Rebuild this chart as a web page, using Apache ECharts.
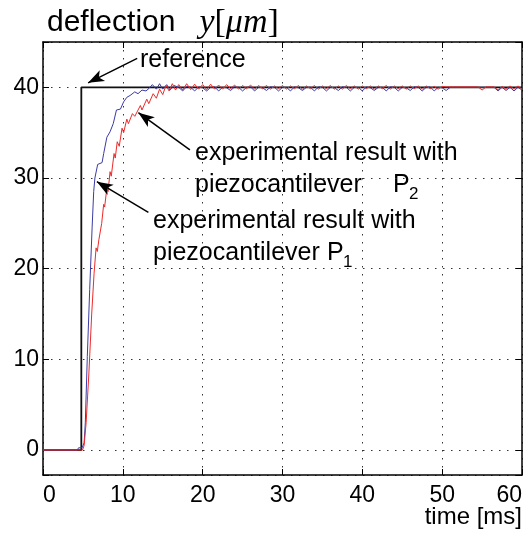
<!DOCTYPE html>
<html>
<head>
<meta charset="utf-8">
<script src="https://cdn.jsdelivr.net/npm/echarts@6/dist/echarts.min.js"></script>
<style>
  html, body { margin: 0; padding: 0; background: #fff; }
  #chart { width: 532px; height: 538px; }
</style>
</head>
<body>
<div id="chart"></div>
<script>
// reference step
const refTime = [0, 4.8, 4.8, 60];
const refValues = [0, 0, 40, 40];

// piezocantilever P2 (blue), rise part
const p2RiseTime = [0, 4.3, 4.45, 4.9, 5.05, 5.15, 5.3, 5.55, 5.85, 6.15,
  6.35, 6.5, 6.85, 7.4, 7.6, 8.0, 8.4, 8.8, 9.2, 9.7,
  10.1, 10.5, 10.9, 11.5, 11.9, 12.4, 12.9, 13.3, 13.7, 14.2,
  14.6, 15.0, 15.5, 15.9, 16.4];
const p2RiseValues = [0, 0, 0.25, 0.25, 0.1, 0.8, 3, 10.3, 17.7, 24.5,
  28.5, 30.0, 31.5, 31.7, 32.7, 34.5, 35.1, 36.0, 37.5, 37.6,
  38.4, 38.9, 39.1, 39.5, 39.3, 39.7, 39.6, 39.9, 40.3, 39.8,
  40.4, 39.8, 40.3, 39.7, 40.2];

// piezocantilever P1 (red), rise part
const p1RiseTime = [0, 4.95, 5.15, 5.4, 5.75, 6.1, 6.4, 6.65, 6.8, 7.0,
  7.35, 7.6, 7.72, 8.0, 8.15, 8.4, 8.55, 8.9, 9.05, 9.3,
  9.55, 9.9, 10.1, 10.5, 10.7, 11.2, 11.5, 12.2, 12.4, 13.0,
  13.25, 13.8, 14.2, 14.6, 15.0, 15.4, 15.8, 16.2, 16.6];
const p1RiseValues = [0, 0, 0.5, 3, 8.5, 15, 19.5, 22.3, 21.9, 23.2,
  25, 27.1, 26.8, 28.9, 28.5, 30.7, 30.2, 32.7, 32.2, 34.0,
  33.5, 35.5, 35.0, 36.5, 36.0, 37.1, 36.8, 38.0, 37.5, 38.7,
  38.2, 39.3, 38.8, 39.8, 39.2, 40.2, 39.6, 40.4, 39.7];

// steady state, both cantilevers
const steadyTime = [17.0, 17.5, 18.0, 18.5, 19.0, 19.5, 20.0, 20.5, 21.0, 21.5,
  22.0, 22.5, 23.0, 23.5, 24.0, 24.5, 25.0, 25.5, 26.0, 26.5,
  27.0, 27.5, 28.0, 28.5, 29.0, 29.5, 30.0, 30.5, 31.0, 31.5,
  32.0, 32.5, 33.0, 33.5, 34.0, 34.5, 35.0, 35.5, 36.0, 36.5,
  37.0, 37.5, 38.0, 38.5, 39.0, 39.5, 40.0, 40.5, 41.0, 41.5,
  42.0, 42.5, 43.0, 43.5, 44.0, 44.5, 45.0, 45.5, 46.0, 46.5,
  47.0, 47.5, 48.0, 48.5, 49.0, 49.5, 50.0, 50.5, 51.0, 51.5,
  52.0, 52.5, 53.0, 53.5, 54.0, 54.5, 55.0, 55.5, 56.0, 56.5,
  57.0, 57.5, 58.0, 58.5, 59.0, 59.5, 60.0];
const p2Steady = [40.0, 39.6, 40.1, 40.0, 39.6, 40.05, 39.95, 39.6, 40.0, 40.05,
  39.6, 40.0, 39.95, 39.65, 40.05, 40.0, 39.6, 40.0, 40.05, 39.6,
  40.0, 39.95, 39.65, 40.05, 40.0, 39.6, 40.0, 40.0, 39.6, 40.05,
  39.95, 39.65, 40.0, 40.0, 39.6, 40.05, 40.0, 39.6, 40.0, 39.95,
  39.65, 40.05, 40.0, 39.6, 40.0, 40.0, 39.6, 40.05, 39.95, 39.65,
  40.0, 40.0, 39.6, 40.05, 40.0, 39.6, 40.0, 39.95, 39.65, 40.05,
  40.0, 39.6, 40.0, 40.05, 39.6, 40.0, 39.95, 39.65, 40.0, 40.0,
  40.0, 40.0, 40.0, 40.0, 40.0, 40.0, 40.0, 40.0, 40.0, 40.0,
  39.6, 40.0, 39.65, 40.0, 39.6, 40.0, 39.7];
const p1Steady = [40.3, 39.7, 40.4, 39.75, 40.35, 39.8, 40.3, 39.75, 40.35, 39.8,
  40.25, 39.8, 40.3, 39.85, 40.25, 39.8, 40.2, 39.85, 40.25, 39.8,
  40.2, 39.85, 40.2, 39.8, 40.15, 39.85, 40.2, 39.8, 40.15, 39.85,
  40.2, 39.8, 40.15, 39.85, 40.2, 39.8, 40.15, 39.85, 40.2, 39.8,
  40.15, 39.8, 40.2, 39.85, 40.15, 39.8, 40.15, 39.85, 40.15, 39.8,
  40.15, 39.85, 40.2, 39.8, 40.15, 39.85, 40.15, 39.8, 40.15, 39.85,
  40.15, 39.8, 40.15, 39.85, 40.1, 39.8, 40.1, 40.05, 40.05, 40.05,
  40.05, 40.05, 40.05, 40.05, 40.05, 40.05, 39.7, 40.05, 40.05, 40.05,
  39.7, 40.1, 39.8, 40.15, 39.8, 40.15, 39.8];

const font = '"Liberation Sans", Arial, Helvetica, sans-serif';
const serif = '"Liberation Serif", "DejaVu Serif", serif';

const toPairs = (t, v) => t.map((x, i) => [x, v[i]]);

const chart = echarts.init(document.getElementById('chart'));

const gridDots = { color: '#333', width: 1, type: [1.5, 6.5] };

const label = (text, x, y, size, align) => ({
  type: 'text', x: x, y: y,
  style: { text: text, font: size + 'px ' + font, fill: '#000', verticalAlign: 'middle', align: align || 'left' }
});

const option = {
  animation: false,
  backgroundColor: '#fff',
  title: {
    text: '{a|deflection}{g|}{b|y}{c|[}{b|μm}{c|]}',
    left: 42,
    top: 1,
    textStyle: {
      fontWeight: 'normal',
      rich: {
        a: { fontFamily: font, fontSize: 30, fontWeight: 'normal', color: '#000' },
        g: { width: 24 },
        b: { fontFamily: serif, fontStyle: 'italic', fontWeight: 'normal', fontSize: 34, color: '#000' },
        c: { fontFamily: serif, fontWeight: 'normal', fontSize: 34, color: '#000' }
      }
    }
  },
  grid: { left: 43, right: 10, top: 42, bottom: 63, containLabel: false, outerBoundsMode: 'none' },
  xAxis: [
    {
      type: 'value', min: 0, max: 60, interval: 10,
      axisLine: { onZero: false, lineStyle: { color: '#000', width: 1.5 } },
      axisTick: { inside: true, length: 6, lineStyle: { color: '#000' } },
      axisLabel: {
        color: '#000', fontFamily: font, fontSize: 23, margin: 9,
        alignMinLabel: 'left', alignMaxLabel: 'right'
      },
      splitLine: { show: true, lineStyle: gridDots }
    },
    {
      type: 'value', min: 0, max: 60, interval: 10, position: 'top',
      axisLine: { onZero: false, lineStyle: { color: '#000', width: 1.5 } },
      axisTick: { inside: true, length: 6, lineStyle: { color: '#000' } },
      axisLabel: { show: false },
      splitLine: { show: false }
    }
  ],
  yAxis: [
    {
      type: 'value', min: -2.75, max: 45, splitNumber: 5,
      axisLine: { show: true, onZero: false, lineStyle: { color: '#000', width: 1.5 } },
      axisTick: { show: true, inside: true, length: 6, lineStyle: { color: '#000' } },
      axisLabel: {
        color: '#000', fontFamily: font, fontSize: 23, margin: 4,
        formatter: (v) => (v % 10 === 0 ? String(v) : '')
      },
      splitLine: { show: true, lineStyle: gridDots }
    },
    {
      type: 'value', min: -2.75, max: 45, splitNumber: 5, position: 'right',
      axisLine: { show: true, onZero: false, lineStyle: { color: '#000', width: 1.5 } },
      axisTick: { show: true, inside: true, length: 6, lineStyle: { color: '#000' } },
      axisLabel: { show: false },
      splitLine: { show: false }
    }
  ],
  series: [
    {
      name: 'reference', type: 'line', showSymbol: false, symbol: 'none',
      data: toPairs(refTime, refValues),
      lineStyle: { color: '#111', width: 1.8 }, z: 2,
      markLine: {
        silent: true, animation: false,
        symbol: ['none', 'arrow'], symbolSize: [9, 16],
        label: { show: false },
        lineStyle: { color: '#000', width: 1.5, type: 'solid' },
        data: [
          [{ coord: [11.8, 43.2] }, { coord: [5.65, 40.5] }],
          [{ coord: [18.4, 33.1] }, { coord: [11.95, 37.2] }],
          [{ coord: [13.2, 26.2] }, { coord: [6.75, 29.6] }]
        ]
      }
    },
    {
      name: 'P2', type: 'line', showSymbol: false, symbol: 'none',
      data: toPairs(p2RiseTime.concat(steadyTime), p2RiseValues.concat(p2Steady)),
      lineStyle: { color: '#3b3ba5', width: 1 }, z: 3
    },
    {
      name: 'P1', type: 'line', showSymbol: false, symbol: 'none',
      data: toPairs(p1RiseTime.concat(steadyTime), p1RiseValues.concat(p1Steady)),
      lineStyle: { color: '#ee2a2a', width: 1 }, z: 4
    }
  ],
  graphic: [
    label('reference', 140, 60, 25),
    label('experimental result with', 195, 153, 25),
    label('piezocantilever', 195, 185, 25),
    label('P', 393, 185, 25),
    label('2', 409, 194, 17),
    label('experimental result with', 153, 221, 25),
    label('piezocantilever', 153, 253, 25),
    label('P', 327, 253, 25),
    label('1', 343, 262, 17),
    label('time [ms]', 522, 517, 24, 'right')
  ]
};

chart.setOption(option);
</script>
</body>
</html>
